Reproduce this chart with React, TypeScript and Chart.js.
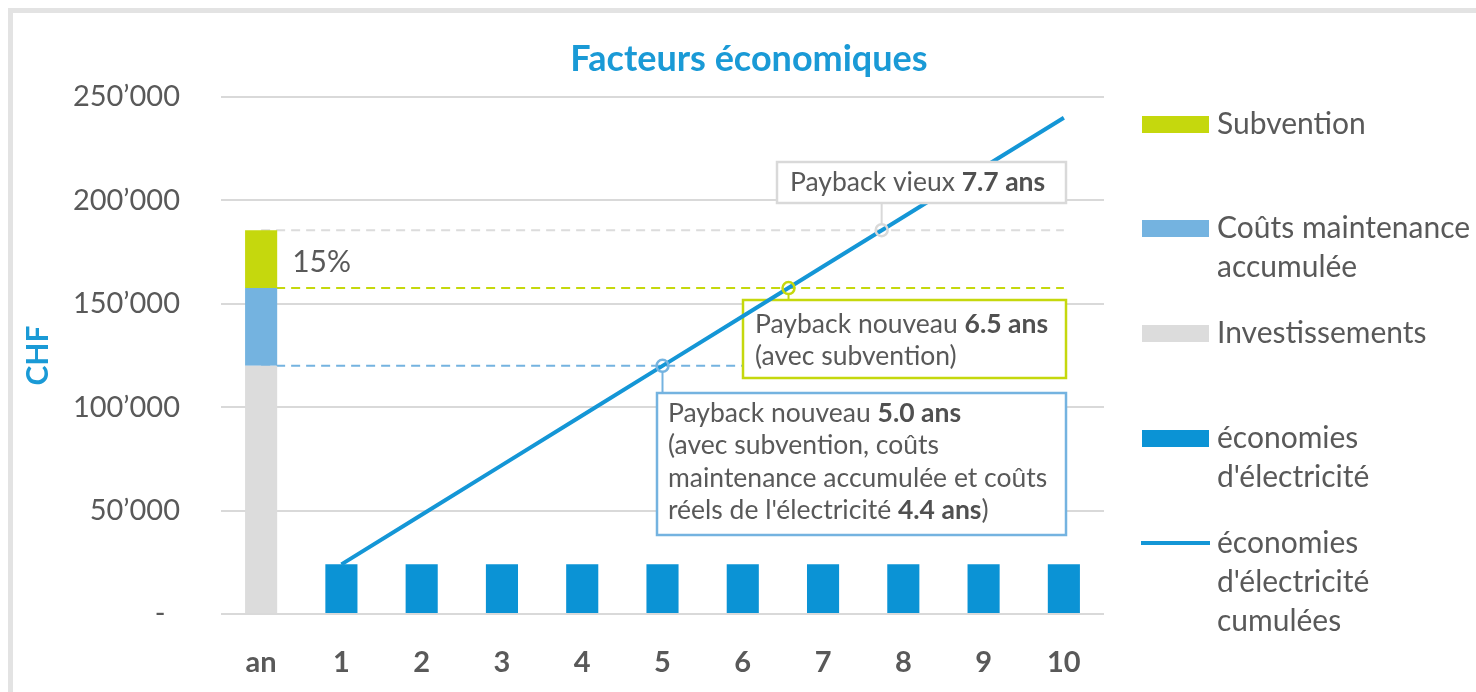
import { useEffect, useRef } from 'react';
import { Chart, registerables } from 'chart.js';

Chart.register(...registerables);

// ---------- data ----------
const categories = ['an', '1', '2', '3', '4', '5', '6', '7', '8', '9', '10'];
const investissements = [120000, null, null, null, null, null, null, null, null, null, null];
const maintenance = [37600, null, null, null, null, null, null, null, null, null, null];
const subvention = [28000, null, null, null, null, null, null, null, null, null, null];
const economies = [null, 24000, 24000, 24000, 24000, 24000, 24000, 24000, 24000, 24000, 24000];
const cumulees = [null, 24000, 48000, 72000, 96000, 120000, 144000, 168000, 192000, 216000, 240000];
const yTickValues = [0, 50000, 100000, 150000, 200000, 250000];
// payback reference levels (CHF) and the year where cumulative savings reach them
const paybackLevels = [120000, 157600, 185600];
const paybackYears = [5.0, 6.57, 7.73];

const legendLabels = [
  ['Subvention'],
  ['Coûts maintenance', 'accumulée'],
  ['Investissements'],
  ['économies', "d'électricité"],
  ['économies', "d'électricité", 'cumulées'],
];

type Seg = { t: string; b?: boolean };
const boxGrayText: Seg[][] = [[{ t: 'Payback vieux ' }, { t: '7.7 ans', b: true }]];
const boxYellowText: Seg[][] = [
  [{ t: 'Payback nouveau ' }, { t: '6.5 ans', b: true }],
  [{ t: '(avec subvention)' }],
];
const boxBlueText: Seg[][] = [
  [{ t: 'Payback nouveau ' }, { t: '5.0 ans', b: true }],
  [{ t: '(avec subvention, coûts' }],
  [{ t: 'maintenance accumulée et coûts' }],
  [{ t: "réels de l'électricité " }, { t: '4.4 ans', b: true }, { t: ')' }],
];
const shareLabel = '15%';

// ---------- styles ----------
const FONT = 'Lato, "Open Sans", sans-serif';
const TXT = '#595959';
const BLUE_TITLE = '#1a9ad6';
const C_SUB = '#c5d80d';
const C_MAINT = '#74b3e0';
const C_INV = '#dcdcdc';
const C_ECO = '#0b93d5';
const C_LINE = '#1496d6';
const C_GRID = '#d9d9d9';

function drawSegs(ctx: CanvasRenderingContext2D, lines: Seg[][], x: number, y0: number, lh: number, size: number) {
  ctx.textBaseline = 'middle';
  ctx.textAlign = 'left';
  lines.forEach((line, i) => {
    let cx = x;
    const y = y0 + i * lh;
    line.forEach((s) => {
      ctx.font = `${s.b ? 'bold ' : ''}${size}px ${FONT}`;
      ctx.fillStyle = s.b ? '#505050' : TXT;
      ctx.fillText(s.t, cx, y);
      cx += ctx.measureText(s.t).width;
    });
  });
}

function box(ctx: CanvasRenderingContext2D, l: number, t: number, r: number, b: number, color: string) {
  ctx.fillStyle = '#ffffff';
  ctx.fillRect(l, t, r - l, b - t);
  ctx.strokeStyle = color;
  ctx.lineWidth = 2.5;
  ctx.setLineDash([]);
  ctx.strokeRect(l, t, r - l, b - t);
}

const deco = {
  id: 'deco',
  beforeDraw(chart: any) {
    const ctx = chart.ctx as CanvasRenderingContext2D;
    ctx.save();
    ctx.fillStyle = '#ffffff';
    ctx.fillRect(0, 0, chart.width, chart.height);
    ctx.strokeStyle = '#e3e3e3';
    ctx.lineWidth = 5;
    ctx.strokeRect(10.5, 10.5, chart.width + 50, chart.height + 50);
    ctx.restore();
  },
  beforeDatasetsDraw(chart: any) {
    const ctx = chart.ctx as CanvasRenderingContext2D;
    const xs = chart.scales.x;
    const ys = chart.scales.y;
    const x0 = xs.getPixelForValue(0);
    const x1 = xs.getPixelForValue(10);
    const colors = [C_MAINT, C_SUB, C_INV];
    ctx.save();
    ctx.lineWidth = 2;
    ctx.setLineDash([9, 6]);
    paybackLevels.forEach((v, i) => {
      const y = ys.getPixelForValue(v);
      ctx.strokeStyle = colors[i];
      ctx.beginPath();
      ctx.moveTo(x0, y);
      ctx.lineTo(x1, y);
      ctx.stroke();
    });
    // yellow and blue annotation boxes
    box(ctx, 743, 300, 1066, 378, C_SUB);
    drawSegs(ctx, boxYellowText, 755, 324, 32, 26.5);
    box(ctx, 657, 393, 1066, 535, C_MAINT);
    drawSegs(ctx, boxBlueText, 668, 413, 32.5, 26.5);
    ctx.restore();
  },
  afterDatasetsDraw(chart: any) {
    const ctx = chart.ctx as CanvasRenderingContext2D;
    const xs = chart.scales.x;
    const ys = chart.scales.y;
    ctx.save();
    // gray box (covers the line)
    box(ctx, 777, 162, 1066, 203, C_GRID);
    drawSegs(ctx, boxGrayText, 790, 182, 32, 26.5);

    // circles + connectors
    const colors = [C_MAINT, C_SUB, C_GRID];
    const targets = [393, 300, 203];
    paybackLevels.forEach((v, i) => {
      const cx = xs.getPixelForValue(paybackYears[i]);
      const cy = ys.getPixelForValue(v);
      ctx.strokeStyle = colors[i];
      ctx.lineWidth = 2;
      ctx.setLineDash([]);
      ctx.beginPath();
      const r = 6;
      if (targets[i] > cy) {
        ctx.moveTo(cx, cy + r);
      } else {
        ctx.moveTo(cx, cy - r);
      }
      ctx.lineTo(cx, targets[i]);
      ctx.stroke();
      ctx.lineWidth = 2.5;
      ctx.beginPath();
      ctx.arc(cx, cy, r, 0, Math.PI * 2);
      ctx.stroke();
    });

    // 15% label
    ctx.font = `30px ${FONT}`;
    ctx.fillStyle = TXT;
    ctx.textAlign = 'left';
    ctx.textBaseline = 'middle';
    const barMeta = chart.getDatasetMeta(3);
    const subBar = barMeta.data[0];
    ctx.fillText(shareLabel, subBar.x + subBar.width / 2 + 15, (subBar.y + subBar.base) / 2 + 3);

    // title
    ctx.font = `bold 36px ${FONT}`;
    ctx.fillStyle = BLUE_TITLE;
    ctx.textAlign = 'center';
    ctx.fillText('Facteurs économiques', 749, 59);

    // y-axis title
    ctx.save();
    ctx.translate(38, (chart.chartArea.top + chart.chartArea.bottom) / 2);
    ctx.rotate(-Math.PI / 2);
    ctx.font = `bold 30px ${FONT}`;
    ctx.fillStyle = BLUE_TITLE;
    ctx.textAlign = 'center';
    ctx.textBaseline = 'middle';
    ctx.fillText('CHF', 0, 0);
    ctx.restore();

    // legend
    const legendColors = [C_SUB, C_MAINT, C_INV, C_ECO, C_LINE];
    const rowTop = [124, 228, 333, 438, 543];
    ctx.font = `30px ${FONT}`;
    ctx.fillStyle = TXT;
    ctx.textAlign = 'left';
    ctx.textBaseline = 'middle';
    legendLabels.forEach((lines, i) => {
      const y = rowTop[i];
      if (i === 4) {
        ctx.strokeStyle = legendColors[i];
        ctx.lineWidth = 4;
        ctx.beginPath();
        ctx.moveTo(1141, y);
        ctx.lineTo(1210, y);
        ctx.stroke();
      } else {
        ctx.fillStyle = legendColors[i];
        ctx.fillRect(1142, y - 8, 67, 17);
      }
      ctx.fillStyle = TXT;
      lines.forEach((ln, j) => ctx.fillText(ln, 1217, y + j * 39));
    });
    ctx.restore();
  },
};

export default function App() {
  const ref = useRef<HTMLCanvasElement | null>(null);
  useEffect(() => {
    if (!ref.current) return;
    const chart = new Chart(ref.current, {
      type: 'bar',
      data: {
        labels: categories,
        datasets: [
          {
            type: 'line',
            label: "économies d'électricité cumulées",
            data: cumulees,
            borderColor: C_LINE,
            backgroundColor: C_LINE,
            borderWidth: 4,
            pointRadius: 0,
            tension: 0,
            order: 0,
          } as any,
          { label: 'Investissements', data: investissements, backgroundColor: C_INV, stack: 's', order: 1 },
          { label: 'Coûts maintenance accumulée', data: maintenance, backgroundColor: C_MAINT, stack: 's', order: 1 },
          { label: 'Subvention', data: subvention, backgroundColor: C_SUB, stack: 's', order: 1 },
          { label: "économies d'électricité", data: economies, backgroundColor: C_ECO, stack: 's', order: 1 },
        ],
      },
      options: {
        responsive: false,
        animation: false,
        devicePixelRatio: 1,
        layout: { padding: { left: 0, right: 372, top: 97, bottom: 0 } },
        datasets: { bar: { barPercentage: 0.4, categoryPercentage: 1 } },
        plugins: { legend: { display: false }, title: { display: false }, tooltip: { enabled: false } },
        scales: {
          x: {
            stacked: true,
            grid: { display: false },
            border: { display: false },
            ticks: { color: TXT, font: { family: FONT, size: 29, weight: 'bold' }, padding: 23 },
            afterFit: (s: any) => {
              s.height = 78;
            },
          },
          y: {
            stacked: true,
            min: 0,
            max: 250000,
            afterBuildTicks: (s: any) => {
              s.ticks = yTickValues.map((v) => ({ value: v }));
            },
            ticks: {
              color: TXT,
              font: { family: FONT, size: 29 },
              padding: 41,
              callback: (v: any) => (Number(v) === 0 ? '-\u2002' : `${Number(v) / 1000}’000`),
            },
            grid: { color: C_GRID, lineWidth: 2, drawTicks: false },
            border: { display: false },
            afterFit: (s: any) => {
              s.width = 221;
            },
          },
        },
      } as any,
      plugins: [deco],
    });
    return () => chart.destroy();
  }, []);
  return (
    <div style={{ position: 'fixed', left: 0, top: 0, width: 1476, height: 692, background: '#fff' }}>
      <canvas ref={ref} width={1476} height={692} style={{ width: 1476, height: 692, display: 'block' }} />
    </div>
  );
}
